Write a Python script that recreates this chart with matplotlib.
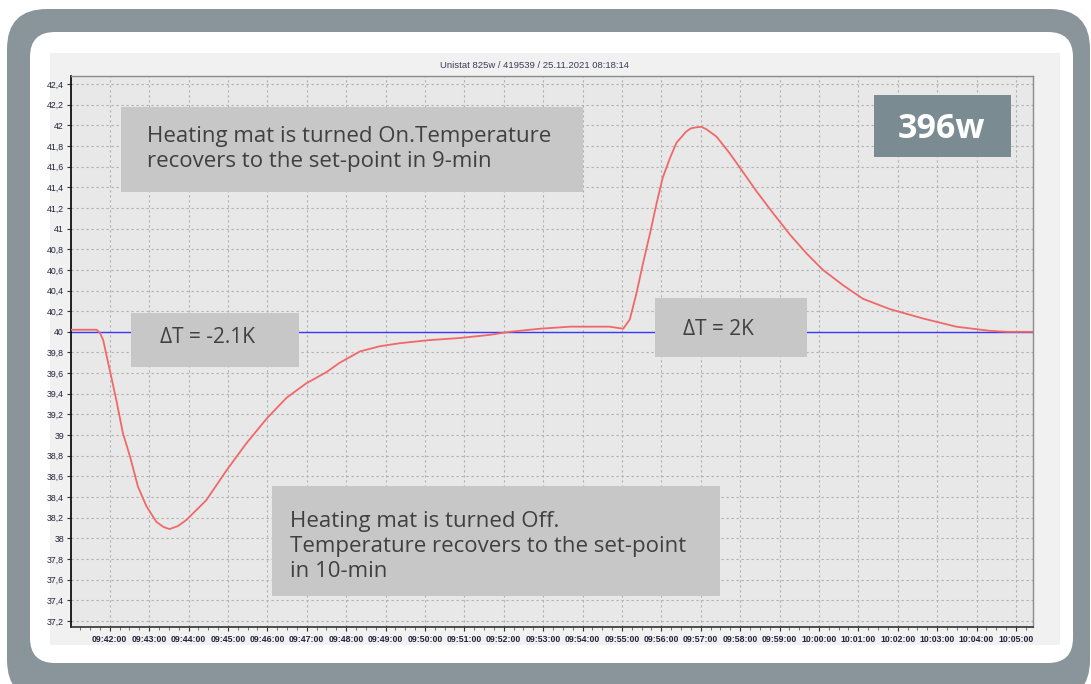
import matplotlib
matplotlib.use("Agg")
import matplotlib.pyplot as plt
import matplotlib.dates as mdates
from matplotlib.patches import Rectangle, FancyBboxPatch
import pandas as pd

# ---------------- data ----------------
chart_title = "Unistat 825w / 419539 / 25.11.2021 08:18:14"
day = "2021-11-25"
times = ["09:41:01", "09:41:40", "09:41:45", "09:41:50", "09:42:00", "09:42:10", "09:42:20",
         "09:42:31", "09:42:43", "09:42:56", "09:43:11", "09:43:22", "09:43:31", "09:43:44",
         "09:43:57",
         "09:44:27", "09:44:58", "09:45:28", "09:45:59", "09:46:29", "09:46:59",
         "09:47:30", "09:47:50", "09:48:21", "09:48:51", "09:49:22", "09:50:07",
         "09:50:53", "09:51:38", "09:52:09", "09:52:55", "09:53:41", "09:54:11",
         "09:54:41", "09:55:02", "09:55:12", "09:55:22", "09:55:32", "09:55:43",
         "09:55:53", "09:56:02", "09:56:13", "09:56:23", "09:56:38", "09:56:45", "09:56:53",
         "09:57:01", "09:57:09", "09:57:24", "09:57:44", "09:58:04", "09:58:25", "09:58:50",
         "09:59:16", "09:59:41", "10:00:06", "10:00:37", "10:01:07", "10:01:48",
         "10:02:38", "10:03:29", "10:04:20", "10:04:46", "10:05:26"]
temperature = [40.02, 40.02, 39.99, 39.92, 39.63, 39.34, 39.02,
               38.79, 38.50, 38.31, 38.16, 38.11, 38.09, 38.12,
               38.18,
               38.37, 38.66, 38.92, 39.16, 39.36, 39.50,
               39.61, 39.70, 39.81, 39.86, 39.89, 39.92,
               39.94, 39.97, 40.00, 40.03, 40.05, 40.05,
               40.05, 40.03, 40.12, 40.37, 40.66, 40.96,
               41.25, 41.49, 41.68, 41.83, 41.94, 41.97, 41.98,
               41.985, 41.96, 41.89, 41.73, 41.55, 41.36, 41.15,
               40.94, 40.76, 40.60, 40.45, 40.32, 40.22,
               40.13, 40.05, 40.01, 40.00, 40.00]
setpoint = 40.0
x_range = ["09:41:01", "10:05:26"]
y_range = [37.142, 42.477]
y_tick_values = [37.2, 37.4, 37.6, 37.8, 38.0, 38.2, 38.4, 38.6, 38.8, 39.0, 39.2, 39.4,
                 39.6, 39.8, 40.0, 40.2, 40.4, 40.6, 40.8, 41.0, 41.2, 41.4, 41.6, 41.8,
                 42.0, 42.2, 42.4]
y_tick_labels = ["37,2", "37,4", "37,6", "37,8", "38", "38,2", "38,4", "38,6", "38,8", "39",
                 "39,2", "39,4", "39,6", "39,8", "40", "40,2", "40,4", "40,6", "40,8", "41",
                 "41,2", "41,4", "41,6", "41,8", "42", "42,2", "42,4"]
note_on = ["Heating mat is turned On.Temperature", "recovers to the set-point in 9-min"]
note_off = ["Heating mat is turned Off.", "Temperature recovers to the set-point", "in 10-min"]
delta_low = "\u0394T = -2.1K"
delta_high = "\u0394T = 2K"
power_label = "396w"

# ---------------- figure ----------------
W, H = 1091, 684
fig = plt.figure(figsize=(W / 100, H / 100), dpi=100)
fig.patch.set_facecolor("white")
tr = fig.dpi_scale_trans


def px_rect(x0, y0, x1, y1, color, z, rounding=None):
    if rounding is None:
        p = Rectangle((x0 / 100, (H - y1) / 100), (x1 - x0) / 100, (y1 - y0) / 100,
                      transform=tr, facecolor=color, edgecolor="none", zorder=z)
    else:
        p = FancyBboxPatch((x0 / 100, (H - y1) / 100), (x1 - x0) / 100, (y1 - y0) / 100,
                           boxstyle=f"round,pad=0,rounding_size={rounding / 100}",
                           transform=tr, facecolor=color, edgecolor="none", zorder=z)
    fig.patches.append(p)


def px_text(x, y, s, **kw):
    fig.text(x / 100, (H - y) / 100, s, transform=tr, **kw)


# frame
px_rect(7, 9, 1090, 700, "#8a959b", -30, rounding=40)
px_rect(30, 32, 1073, 663, "white", -20, rounding=25)
px_rect(50, 53, 1060, 645, "#f1f1f1", -10)

# axes
L, R, T, B = 71, 1033, 76, 627
ax = fig.add_axes([L / W, 1 - B / H, (R - L) / W, (B - T) / H])
ax.set_facecolor("#e8e8e8")

t = pd.to_datetime([f"{day} {s}" for s in times])
ax.axhline(setpoint, color="#3838ff", lw=1.0, zorder=2)
ax.plot(t, temperature, color="#f06868", lw=1.3, zorder=3)

ax.set_xlim(pd.to_datetime(f"{day} {x_range[0]}"), pd.to_datetime(f"{day} {x_range[1]}"))
ax.set_ylim(*y_range)
ax.xaxis.set_major_locator(mdates.MinuteLocator(interval=1))
ax.xaxis.set_major_formatter(mdates.DateFormatter("%H:%M:%S"))
ax.xaxis.set_minor_locator(mdates.SecondLocator(bysecond=[15, 30, 45]))
ax.set_yticks(y_tick_values)
ax.set_yticklabels(y_tick_labels)

tick_font = ["Liberation Sans", "DejaVu Sans"]
for lab in ax.get_xticklabels():
    lab.set_family(tick_font)
    lab.set_fontsize(6.3)
    lab.set_fontweight("bold")
    lab.set_color("#22223a")
for lab in ax.get_yticklabels():
    lab.set_family(tick_font)
    lab.set_fontsize(6.3)
    lab.set_color("#22223a")

ax.tick_params(axis="x", which="major", length=3, width=0.8, pad=3, color="#333333")
ax.tick_params(axis="x", which="minor", length=2, width=0.6, color="#555555")
ax.tick_params(axis="y", which="major", length=3, width=0.8, pad=2, color="#333333")

ax.grid(True, which="major", color="#b0b0b0", linestyle=(0, (2, 2.5)), lw=0.8)
ax.set_axisbelow(True)

ax.spines["left"].set_color("#111111")
ax.spines["left"].set_linewidth(1.3)
ax.spines["bottom"].set_color("#333333")
ax.spines["bottom"].set_linewidth(1.2)
ax.spines["top"].set_color("#8c8c8c")
ax.spines["top"].set_linewidth(1.0)
ax.spines["right"].set_color("#8c8c8c")
ax.spines["right"].set_linewidth(1.0)

# title
px_text(534, 65, chart_title, ha="center", va="center", fontsize=6.8,
        family=tick_font, color="#3a3a58")

# annotation boxes
box_grey = "#c7c7c8"
txt_col = "#404040"
ann_font = ["Open Sans", "DejaVu Sans"]
px_rect(121, 107, 583, 192, box_grey, 5)
for i, line in enumerate(note_on):
    px_text(147, 142 + 24.5 * i, line, ha="left", va="baseline", fontsize=16,
            family=ann_font, color=txt_col, zorder=6)

px_rect(131, 313, 299, 367, box_grey, 5)
px_text(160, 343, delta_low, ha="left", va="baseline", fontsize=15,
        family=ann_font, color=txt_col, zorder=6)

px_rect(655, 298, 807, 357, box_grey, 5)
px_text(683, 335, delta_high, ha="left", va="baseline", fontsize=15,
        family=ann_font, color=txt_col, zorder=6)

px_rect(272, 486, 720, 596, box_grey, 5)
for i, line in enumerate(note_off):
    px_text(290, 527 + 25 * i, line, ha="left", va="baseline", fontsize=16,
            family=ann_font, color=txt_col, zorder=6)

px_rect(874, 95, 1011, 157, "#7b8b92", 5)
px_text(941, 138, power_label, ha="center", va="baseline", fontsize=24.5,
        fontweight="bold", family=ann_font, color="white", zorder=6)

fig.savefig("out.png", dpi=100)
